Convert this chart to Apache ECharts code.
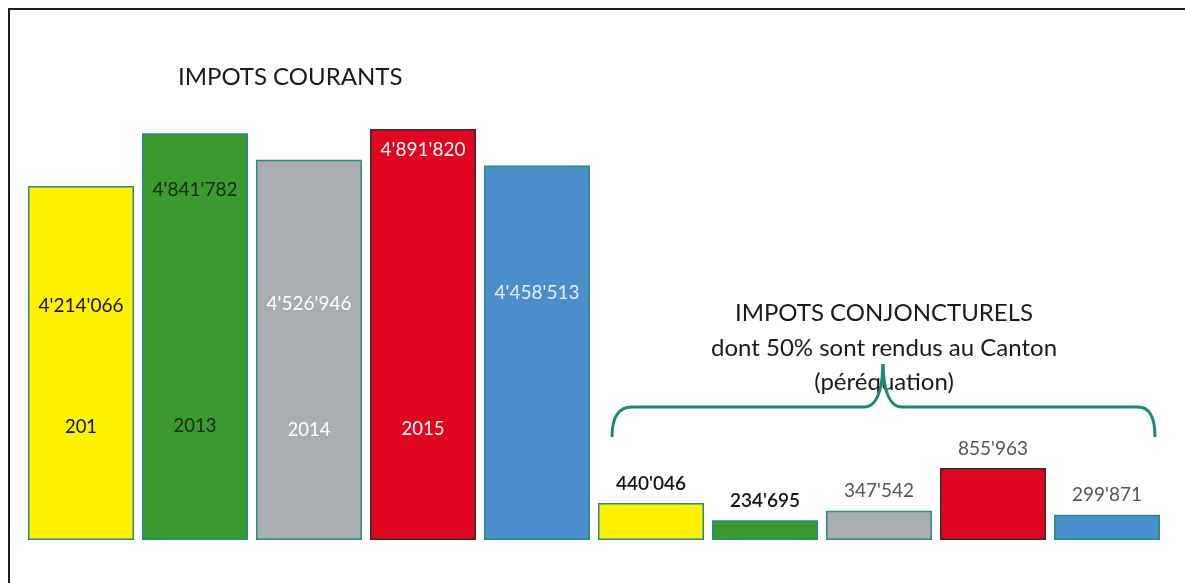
<!DOCTYPE html>
<html>
<head>
<meta charset="utf-8">
<script src="https://cdn.jsdelivr.net/npm/echarts@6/dist/echarts.min.js"></script>
<style>
    html, body {margin: 0; padding: 0; background: #fff;}
    #chart {width: 1185px; height: 583px;}
    #cadre {position: absolute; left: 8px; top: 8px; right: 0; bottom: 0;
        border-left: 2px solid #1c1c1c; border-top: 2px solid #1c1c1c; pointer-events: none;}
</style>
</head>
<body>
<div id="chart"></div>
<div id="cadre"></div>
<script>
// impots courants (5 barres) puis impots conjoncturels (5 barres)
var annees = ['201', '2013', '2014', '2015', '', '', '', '', '', ''];
var valeurs = [4214066, 4841782, 4526946, 4891820, 4458513, 440046, 234695, 347542, 855963, 299871];

var couleurs = ['#fff200', '#3a9a2f', '#a9acb1', '#e1061f', '#4a8fc9'];
var formatCH = function (v) {
    return String(v).replace(/\B(?=(\d{3})+(?!\d))/g, "'");
};

// position et couleur des etiquettes, barre par barre
var posValeur = ['34%', '14%', '38%', '5%', '34%'];
var posAnnee = ['68%', '72%', '71%', '73%', null];
var coulValeur = ['#111', '#1d2a1a', '#fff', '#fff', '#e6eef8', '#111', '#111', '#555', '#555', '#555'];
var coulAnnee = ['#111', '#1d2a1a', '#fff', '#fff', '#fff'];
var grasValeur = [false, false, false, false, false, true, true, false, false, false];

var chart = echarts.init(document.getElementById('chart'));

var dataValeurs = valeurs.map(function (v, i) {
    var lab = {color: coulValeur[i], fontWeight: grasValeur[i] ? 600 : 400};
    if (i < 5) {
        lab.position = ['50%', posValeur[i]];
        lab.align = 'center';
        lab.verticalAlign = 'middle';
    } else {
        lab.position = 'top';
        lab.distance = 10;
    }
    return {
        value: v,
        itemStyle: {color: couleurs[i % 5], borderColor: i % 5 === 3 ? '#3a2a2a' : '#2a8a84'},
        label: lab
    };
});

var dataAnnees = valeurs.map(function (v, i) {
    var show = i < 5 && posAnnee[i] !== null;
    return {
        value: v,
        label: show ? {show: true, position: ['50%', posAnnee[i]], align: 'center',
            verticalAlign: 'middle', color: coulAnnee[i]} : {show: false}
    };
});

var accolade = {stroke: '#1a8a76', lineWidth: 3, fill: null};
var police = '24px Lato';

var option = {
    animation: false,
    grid: {left: 24, right: 21, top: 120, bottom: 43},
    xAxis: {
        type: 'category', data: annees, show: false
    },
    yAxis: {
        type: 'value', min: 0, max: 5000000, show: false
    },
    series: [
        {
            type: 'bar', data: dataValeurs, barCategoryGap: '7%',
            itemStyle: {borderWidth: 1.5},
            label: {
                show: true, fontFamily: 'Lato', fontSize: 19,
                formatter: function (p) { return formatCH(p.value); }
            }
        },
        {
            type: 'bar', data: dataAnnees, barGap: '-100%', barCategoryGap: '7%',
            itemStyle: {color: 'rgba(0,0,0,0)'}, silent: true,
            label: {
                fontFamily: 'Lato', fontSize: 18.5,
                formatter: function (p) { return annees[p.dataIndex]; }
            }
        }
    ],
    graphic: [
        {type: 'text', x: 178, y: 77,
            style: {text: 'IMPOTS COURANTS', font: police, fill: '#1a1a1a', verticalAlign: 'middle'}},
        {type: 'text', x: 884, y: 313,
            style: {text: 'IMPOTS CONJONCTURELS', font: police, fill: '#1a1a1a',
                align: 'center', verticalAlign: 'middle'}},
        {type: 'text', x: 884, y: 348,
            style: {text: 'dont 50% sont rendus au Canton', font: police, fill: '#1a1a1a',
                align: 'center', verticalAlign: 'middle'}},
        {type: 'text', x: 884, y: 382,
            style: {text: '(péréquation)', font: police, fill: '#1a1a1a',
                align: 'center', verticalAlign: 'middle'}},
        {type: 'bezierCurve', z: 10, shape: {x1: 612, y1: 437, x2: 632, y2: 407, cpx1: 612, cpy1: 407}, style: accolade},
        {type: 'line', z: 10, shape: {x1: 632, y1: 407, x2: 864, y2: 407}, style: accolade},
        {type: 'bezierCurve', z: 10, shape: {x1: 864, y1: 407, x2: 883, y2: 364, cpx1: 882, cpy1: 407}, style: accolade},
        {type: 'bezierCurve', z: 10, shape: {x1: 883, y1: 364, x2: 902, y2: 407, cpx1: 884, cpy1: 407}, style: accolade},
        {type: 'line', z: 10, shape: {x1: 902, y1: 407, x2: 1138, y2: 407}, style: accolade},
        {type: 'bezierCurve', z: 10, shape: {x1: 1138, y1: 407, x2: 1155, y2: 437, cpx1: 1155, cpy1: 407}, style: accolade}
    ]
};
chart.setOption(option);
</script>
</body>
</html>
